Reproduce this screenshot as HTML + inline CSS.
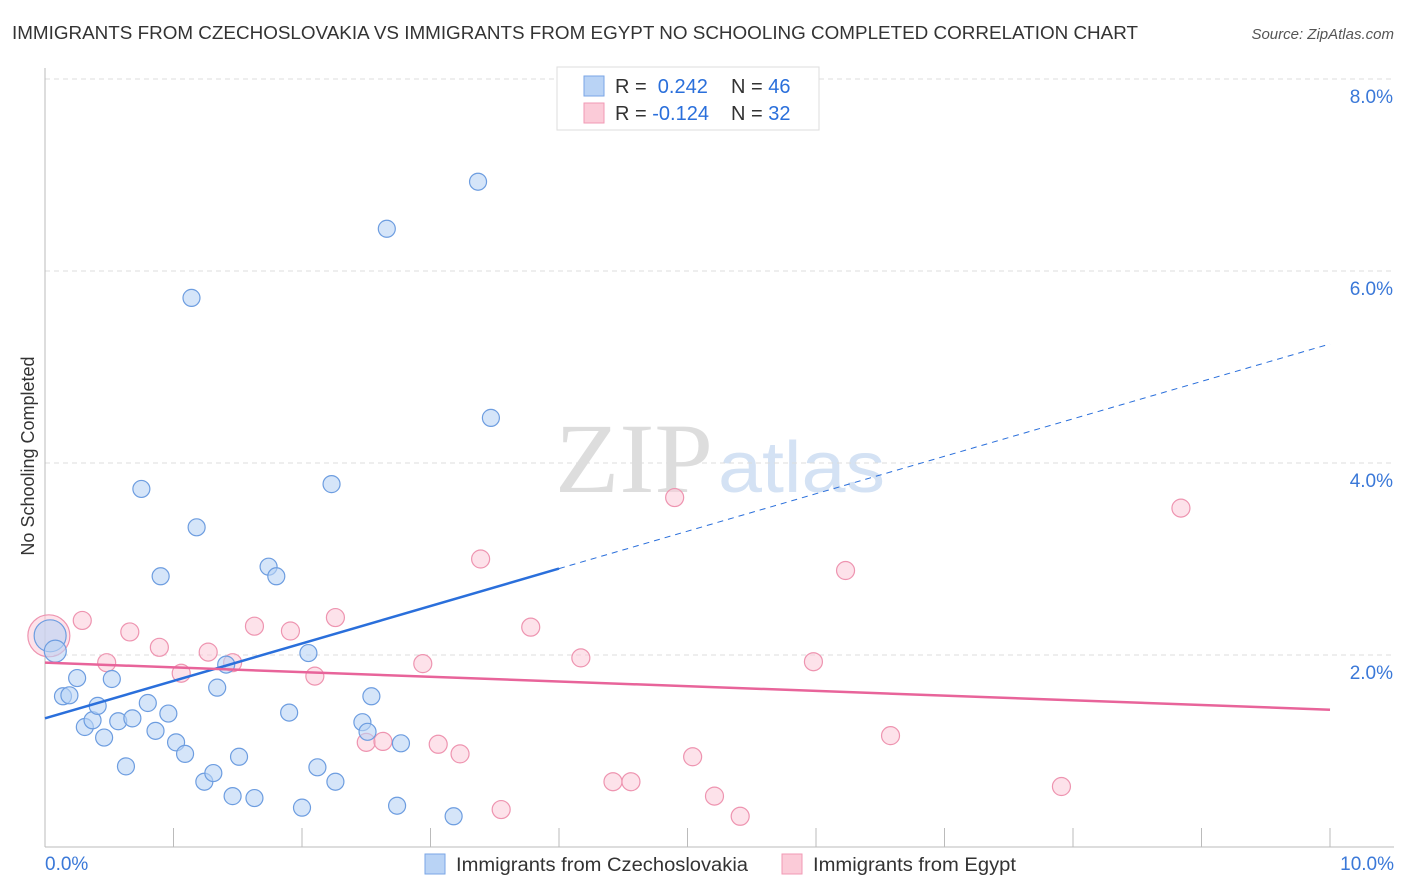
<!DOCTYPE html>
<html><head><meta charset="utf-8">
<style>
body{margin:0;background:#fff;font-family:"Liberation Sans",sans-serif;}
#wrap{position:relative;width:1406px;height:892px;overflow:hidden;}
</style></head>
<body>
<div id="wrap">
<svg id="chart" width="1406" height="892" xmlns="http://www.w3.org/2000/svg">
<text x="12" y="39" font-size="18" fill="#333" textLength="1126" lengthAdjust="spacingAndGlyphs">IMMIGRANTS FROM CZECHOSLOVAKIA VS IMMIGRANTS FROM EGYPT NO SCHOOLING COMPLETED CORRELATION CHART</text>
<text x="1394" y="39" font-size="15" fill="#555" font-style="italic" text-anchor="end">Source: ZipAtlas.com</text>
<text x="0" y="0" transform="translate(34,456) rotate(-90)" font-size="18" fill="#333" text-anchor="middle">No Schooling Completed</text>
<text x="555" y="492" font-size="100" fill="#ddd" textLength="158" lengthAdjust="spacingAndGlyphs" font-family="Liberation Serif,serif">ZIP</text>
<text x="718" y="492" font-size="72" fill="#d4e2f4" textLength="167" lengthAdjust="spacingAndGlyphs">atlas</text>
<g id="grid"></g><g id="axes"></g><g id="pts"></g><g id="lines"></g>
<g>
<rect x="557" y="67" width="262" height="63" fill="#fff" stroke="#ddd"/>
<rect x="584" y="76" width="20" height="20" fill="#b9d3f5" stroke="#7aa6e6"/>
<rect x="584" y="103" width="20" height="20" fill="#fbcbd8" stroke="#f19ab4"/>
<text x="615" y="93" font-size="20" fill="#333">R = <tspan fill="#2a6fdb">&#160;0.242</tspan></text>
<text x="731" y="93" font-size="20" fill="#333">N = <tspan fill="#2a6fdb">46</tspan></text>
<text x="615" y="120" font-size="20" fill="#333">R = <tspan fill="#2a6fdb">-0.124</tspan></text>
<text x="731" y="120" font-size="20" fill="#333">N = <tspan fill="#2a6fdb">32</tspan></text>
</g>
<g>
<rect x="425" y="854" width="20" height="20" fill="#b9d3f5" stroke="#7aa6e6"/>
<text x="456" y="871" font-size="19" fill="#333" textLength="292" lengthAdjust="spacingAndGlyphs">Immigrants from Czechoslovakia</text>
<rect x="782" y="854" width="20" height="20" fill="#fbcbd8" stroke="#f19ab4"/>
<text x="813" y="871" font-size="19" fill="#333" textLength="203" lengthAdjust="spacingAndGlyphs">Immigrants from Egypt</text>
</g>
</svg>
</div>
<script>
const xTicks=[0,1,2,3,4,5,6,7,8,9,10];
const yTicks=[2,4,6,8];
const blueX=[0.04,0.08,0.14,0.19,0.25,0.31,0.37,0.41,0.46,0.52,0.57,0.63,0.68,0.75,0.80,0.86,0.90,0.96,1.02,1.09,1.14,1.18,1.24,1.31,1.34,1.41,1.46,1.51,1.63,1.74,1.80,1.90,2.00,2.05,2.12,2.23,2.26,2.47,2.51,2.54,2.66,2.74,2.77,3.18,3.37,3.47];
const blueY=[2.20,2.04,1.57,1.58,1.76,1.25,1.32,1.47,1.14,1.75,1.31,0.84,1.34,3.73,1.50,1.21,2.82,1.39,1.09,0.97,5.72,3.33,0.68,0.77,1.66,1.90,0.53,0.94,0.51,2.92,2.82,1.40,0.41,2.02,0.83,3.78,0.68,1.30,1.20,1.57,6.44,0.43,1.08,0.32,6.93,4.47];
const pinkX=[0.03,0.29,0.48,0.66,0.89,1.06,1.27,1.46,1.63,1.91,2.10,2.26,2.50,2.63,2.94,3.06,3.23,3.39,3.55,3.78,4.17,4.42,4.56,4.90,5.04,5.21,5.41,5.98,6.23,6.58,7.91,8.84];
const pinkY=[2.20,2.36,1.92,2.24,2.08,1.81,2.03,1.92,2.30,2.25,1.78,2.39,1.09,1.10,1.91,1.07,0.97,3.00,0.39,2.29,1.97,0.68,0.68,3.64,0.94,0.53,0.32,1.93,2.88,1.16,0.63,3.53];
const blueTrend=[1.34,5.24];
const pinkTrend=[1.92,1.43];
const NS='http://www.w3.org/2000/svg';
const X=v=>45+v*128.5, Y=v=>847-v*96;
function mk(tag,attrs,parent){const e=document.createElementNS(NS,tag);for(const k in attrs)e.setAttribute(k,attrs[k]);document.getElementById(parent).appendChild(e);return e;}
yTicks.forEach(t=>{
 const l=mk('line',{x1:45,x2:1394,y1:Y(t),y2:Y(t),stroke:'#ddd','stroke-dasharray':'5,4'},'grid');
 
 
 const tx=mk('text',{x:1393,y:Y(t)+24,'font-size':19,fill:'#3a78d8','text-anchor':'end'},'grid');
 tx.textContent=t.toFixed(1)+'%';
 
 
});
const ax=mk('line',{x1:45,x2:45,y1:68,y2:847,stroke:'#bbb'},'axes');


const bx=mk('line',{x1:45,x2:1394,y1:847,y2:847,stroke:'#bbb'},'axes');


xTicks.forEach(t=>{
 const l=mk('line',{x1:X(t),x2:X(t),y1:828,y2:847,stroke:'#bbb'},'axes');
 
 
});
[[0,'start',45],[10,'end',1394]].forEach(([t,a,px])=>{
 const tx=mk('text',{x:px,y:870,'font-size':19,fill:'#3a78d8','text-anchor':a},'axes');
 tx.textContent=t.toFixed(1)+'%';
 
 
});
pinkX.forEach((v,i)=>{
 const c=mk('circle',{cx:X(v),cy:Y(pinkY[i]),r:i==0?21:9,fill:'#fbcbd8','fill-opacity':0.55,stroke:'#ee94b0','stroke-width':1.2},'pts');
 
 
});
blueX.forEach((v,i)=>{
 const c=mk('circle',{cx:X(v),cy:Y(blueY[i]),r:i==0?16:(i==1?11:8.5),fill:'#b9d3f5','fill-opacity':0.6,stroke:'#6d9de0','stroke-width':1.2},'pts');
 
 
});
const by=x=>blueTrend[0]+(blueTrend[1]-blueTrend[0])*x/10;
const b1=mk('line',{x1:X(0),y1:Y(by(0)),x2:X(4),y2:Y(by(4)),stroke:'#2a6fdb','stroke-width':2.5},'lines');


const b2=mk('line',{x1:X(4),y1:Y(by(4)),x2:X(10),y2:Y(by(10)),stroke:'#2a6fdb','stroke-width':1,'stroke-dasharray':'6,5'},'lines');


const p1=mk('line',{x1:X(0),y1:Y(pinkTrend[0]),x2:X(10),y2:Y(pinkTrend[1]),stroke:'#e8649a','stroke-width':2.5},'lines');


</script>
</body></html>
